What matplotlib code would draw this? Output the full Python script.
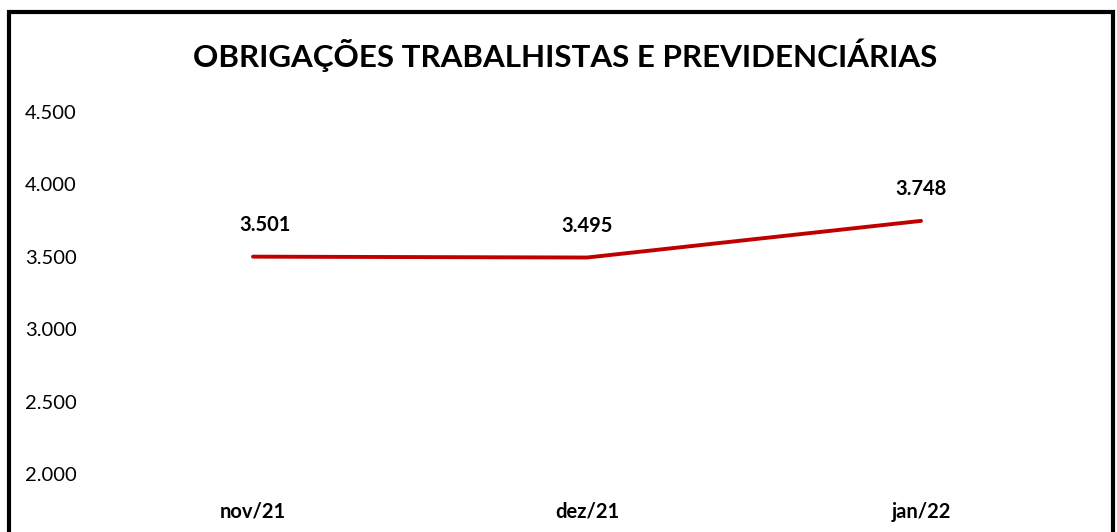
import numpy as np
import matplotlib.pyplot as plt
from matplotlib.patches import Rectangle

meses = ['nov/21', 'dez/21', 'jan/22']
valores = [3501, 3495, 3748]
yticks = [2000, 2500, 3000, 3500, 4000, 4500]

# deslocamento horizontal dos rótulos (pontos)
desloc_x = [9, 0, 0]

plt.rcParams['font.family'] = ['Lato', 'DejaVu Sans']

W, H = 1117, 532
fig = plt.figure(figsize=(W / 100, H / 100), dpi=100)

# eixo: x 86..1088 px, y 112..474 px
ax = fig.add_axes([86 / W, 1 - 474 / H, (1088 - 86) / W, (474 - 112) / H])
x = np.arange(len(meses))
ax.plot(x, valores, color='#c00000', linewidth=2.8, solid_capstyle='round')

for xi, v, dx in zip(x, valores, desloc_x):
    ax.annotate(f'{v:,}'.replace(',', '.'), (xi, v), xytext=(dx, 23),
                textcoords='offset points', ha='center', va='center',
                fontsize=14.5, fontweight='bold')

ax.set_xlim(-0.5, len(meses) - 0.5)
ax.set_ylim(2000, 4500)
ax.set_xticks(x)
ax.set_xticklabels(meses, fontsize=14.5, fontweight='bold')
ax.set_yticks(yticks)
ax.set_yticklabels([f'{t:,}'.replace(',', '.') for t in yticks], fontsize=14.5, ha='left')
ax.tick_params(axis='x', length=0, pad=20)
ax.tick_params(axis='y', length=0, pad=44)
for s in ax.spines.values():
    s.set_visible(False)

fig.text(565 / W, 1 - 55 / H, 'OBRIGAÇÕES TRABALHISTAS E PREVIDENCIÁRIAS',
         ha='center', va='center', fontsize=22.6, fontweight='bold')

# borda preta da figura (aberta embaixo)
fig.patches.append(Rectangle((9 / W, -0.1), (1113 - 9) / W, 1.1 - 12 / H,
                             transform=fig.transFigure, fill=False,
                             edgecolor='black', linewidth=3))

fig.savefig('out.png', dpi=100)
